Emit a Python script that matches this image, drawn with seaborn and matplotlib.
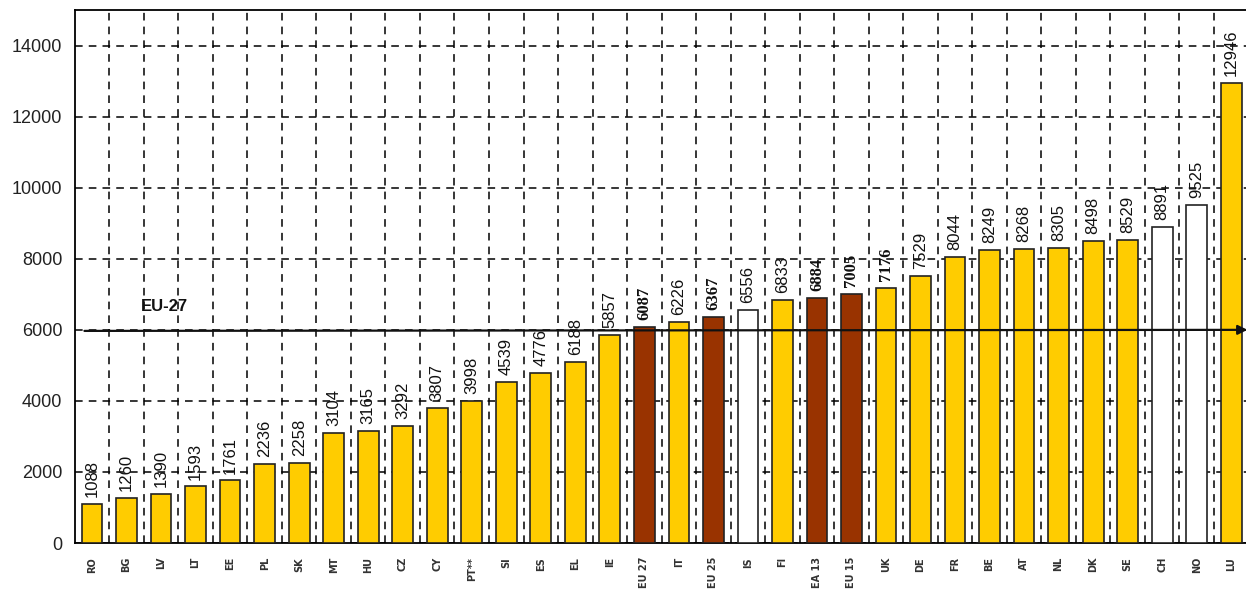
import matplotlib
matplotlib.use('Agg')
import matplotlib.pyplot as plt
import seaborn as sns
import numpy as np

# categories, bar heights as drawn, and the value text printed above each bar
countries = ["RO", "BG", "LV", "LT", "EE", "PL", "SK", "MT", "HU", "CZ", "CY", "PT**",
             "SI", "ES", "EL", "IE", "EU 27", "IT", "EU 25", "IS", "FI", "EA 13", "EU 15",
             "UK", "DE", "FR", "BE", "AT", "NL", "DK", "SE", "CH", "NO", "LU"]
bar_values = [1088, 1260, 1390, 1593, 1761, 2236, 2258, 3104, 3165, 3292, 3807, 3998,
              4539, 4776, 5100, 5857, 6087, 6226, 6367, 6556, 6833, 6884, 7005,
              7176, 7529, 8044, 8249, 8268, 8305, 8498, 8529, 8891, 9525, 12946]
value_labels = ["1088", "1260", "1390", "1593", "1761", "2236", "2258", "3104", "3165", "3292",
                "3807", "3998", "4539", "4776", "6188", "5857", "6087", "6226", "6367", "6556",
                "6833", "6884", "7005", "7176", "7529", "8044", "8249", "8268", "8305", "8498",
                "8529", "8891", "9525", "12946"]
bold_labels = ["EU 27", "EU 25", "EA 13", "EU 15", "UK"]
aggregates = ["EU 27", "EU 25", "EA 13", "EU 15"]
non_eu = ["IS", "CH", "NO"]
eu27_level = 5970
y_ticks = [0, 2000, 4000, 6000, 8000, 10000, 12000, 14000]

gold = "#FFCC00"
brown = "#993300"
colors = {}
for c in countries:
    if c in aggregates:
        colors[c] = brown
    elif c in non_eu:
        colors[c] = "white"
    else:
        colors[c] = gold

sns.set_style("white")
plt.rcParams['font.family'] = ['Liberation Sans', 'DejaVu Sans']

fig, ax = plt.subplots(figsize=(12.46, 5.89), dpi=100)
fig.subplots_adjust(left=0.060, right=1.002, bottom=0.078, top=0.983)

sns.barplot(x=countries, y=bar_values, hue=countries, palette=colors, legend=False,
            saturation=1, width=0.6, edgecolor="#222222", linewidth=1.2, ax=ax, zorder=3)

ax.set_xlim(-0.5, len(countries) - 0.5)
ax.set_ylim(0, 15000)

# dashed grid: horizontal at y ticks, vertical between categories
ax.set_yticks(y_ticks)
ax.set_xticks(np.arange(len(countries) - 1) + 0.5, minor=True)
ax.grid(True, which='major', axis='y', linestyle=(0, (5, 4)), color='black', linewidth=1.1, zorder=0)
ax.grid(True, which='minor', axis='x', linestyle=(0, (5, 4)), color='black', linewidth=1.1, zorder=0)
ax.set_axisbelow(True)

ax.tick_params(axis='y', which='major', direction='inout', length=10, width=1.2,
               labelsize=13, labelcolor='#222222', pad=4)
ax.tick_params(axis='x', which='major', length=0, pad=10)
ax.tick_params(axis='x', which='minor', direction='inout', length=8, width=1.2)
ax.set_xticks(range(len(countries)))
ax.set_xticklabels(countries, rotation=90, fontsize=7, fontweight='bold',
                   family='DejaVu Sans', va='top', color='#333333')

for side in ['left', 'top', 'bottom']:
    ax.spines[side].set_color('black')
    ax.spines[side].set_linewidth(1.3)
ax.spines['right'].set_visible(False)

# value labels above bars
for i, (c, v, t) in enumerate(zip(countries, bar_values, value_labels)):
    if c in bold_labels:
        ax.annotate(t, (i, v), xytext=(0, 5), textcoords='offset points', rotation=90,
                    ha='center', va='bottom', fontsize=12, fontweight='bold',
                    family='Liberation Serif', color='#111111', zorder=5)
    else:
        ax.annotate(t, (i, v), xytext=(0, 5), textcoords='offset points', rotation=90,
                    ha='center', va='bottom', fontsize=12, color='#111111', zorder=5)

# EU-27 reference arrow
ax.annotate("", xy=(len(countries) - 0.45, eu27_level + 30), xytext=(-0.3, eu27_level),
            arrowprops=dict(arrowstyle='-|>', color='#111111', lw=1.6, mutation_scale=14),
            zorder=6, annotation_clip=False)
ax.text(2.1, eu27_level + 480, "EU-27", fontsize=12, fontweight='bold', ha='center',
        va='bottom', color='#111111')

ax.set_xlabel("")
ax.set_ylabel("")
plt.savefig("out.png", dpi=100)
